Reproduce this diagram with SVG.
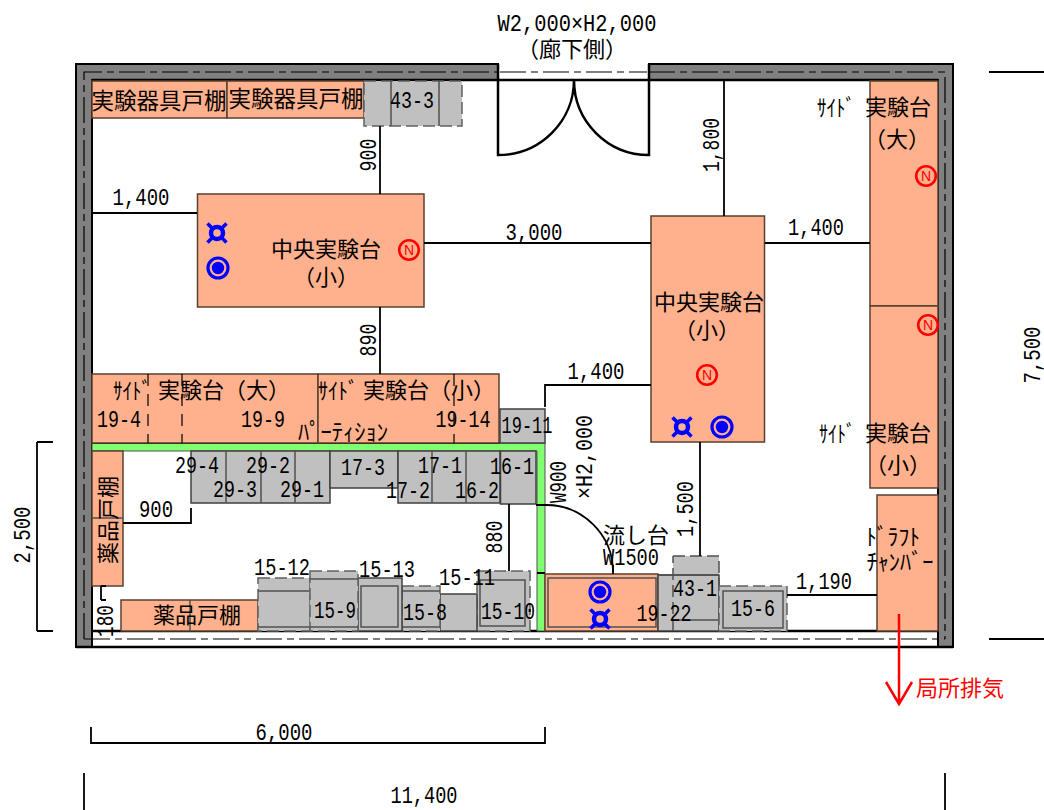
<svg xmlns="http://www.w3.org/2000/svg" width="1044" height="810" viewBox="0 0 1044 810">
<style>
text{fill:#000;text-anchor:middle}
.j{font-family:"Noto Sans CJK JP","Noto Sans",sans-serif;font-size:22px}
.js{font-family:"Noto Sans CJK JP","Noto Sans",sans-serif;font-size:22.500px}
.k{font-family:"Noto Sans CJK JP","Noto Sans",sans-serif;font-size:23px}
.n{font-family:"Liberation Mono",monospace;font-size:24px}
.r{font-family:"Noto Sans CJK JP",sans-serif;font-size:22px;fill:#f00;text-anchor:start}
.o{fill:#ffb08c;stroke:#5a4030;stroke-width:1.5}
.g{fill:#c0c0c0;stroke:#404040;stroke-width:1.5}
.d{fill:#c0c0c0;stroke:#606060;stroke-width:1.5;stroke-dasharray:12 5}
.e{fill:none;stroke:#505050;stroke-width:1.5;stroke-dasharray:12 5}
.i{fill:none;stroke:#505050;stroke-width:1.5}
.w{fill:#808080;stroke:#000;stroke-width:2}
.c{fill:none;stroke:#000;stroke-width:1.8}
.t{fill:none;stroke:#000;stroke-width:2.5}
.ct{fill:none;stroke:#000;stroke-width:1.2;stroke-dasharray:26 5 7 5}
.dg{fill:none;stroke:#000;stroke-width:1.2;stroke-dasharray:12 8}
.gr{fill:#80ff70;stroke:#505050;stroke-width:1}
.nt{font-family:"Liberation Sans",sans-serif;font-size:14px;fill:#f00}
</style>
<defs>
<g id="water"><circle r="10" fill="none" stroke="#00f" stroke-width="3.2"/><circle r="6.2" fill="#00f"/></g>
<g id="gas"><circle r="6" fill="none" stroke="#00f" stroke-width="4.500"/><path d="M-9.500-9.500L-4-4M9.500-9.500L4-4M-9.500 9.500L-4 4M9.500 9.500L4 4" stroke="#00f" stroke-width="3.5"/></g>
<circle id="nc" r="9.8" fill="none" stroke="#f00" stroke-width="2.6"/>
</defs>
<g id="room">
<path class="w" d="M76 64H498V80H92V647H76Z"/>
<path class="w" d="M649 64H953V647H938V80H649Z"/>
<path d="M92 631H938M76 647H953" class="t"/>
<path d="M92 80H938" class="t"/>
<path class="ct" d="M84 639V72H498M500 72H647M649 72H945V639M84 639H945"/>
</g>
<g id="door">
<path class="t" d="M498 64V155A76 75 0 0 0 574 80A75 75 0 0 0 649 155V64"/>
</g>
<g id="shelf-top-1"><rect class="o" x="92" y="81" width="135" height="37"/><text class="js" x="159" y="109">実験器具戸棚</text></g>
<g id="shelf-top-2"><rect class="o" x="227" y="81" width="137" height="37"/><text class="js" x="296" y="107">実験器具戸棚</text></g>
<g id="c43-3"><rect class="d" x="364" y="81" width="98" height="45"/><path class="i" d="M391 81V126M439 81V126"/><text class="n" x="412" y="108" textLength="44" lengthAdjust="spacingAndGlyphs">43-3</text></g>
<g id="table-center-1"><rect class="o" x="197.500" y="194" width="226.500" height="113"/><text class="j" x="326" y="257">中央実験台</text><text class="j" x="326" y="285">（小）</text><use href="#gas" x="217" y="233"/><use href="#water" x="218" y="268"/><use href="#nc" x="409" y="250"/><text class="nt" x="409" y="255">N</text></g>
<g id="table-center-2"><rect class="o" x="651" y="216" width="113.500" height="226"/><text class="j" x="709" y="310">中央実験台</text><text class="j" x="707" y="338">（小）</text><use href="#nc" x="707" y="375"/><text class="nt" x="707" y="380">N</text><use href="#gas" x="682" y="427"/><use href="#water" x="722" y="427"/></g>
<g id="side-right-large"><rect class="o" x="870" y="81" width="68" height="225"/><text class="k" x="836" y="116" textLength="38" lengthAdjust="spacingAndGlyphs">ｻｲﾄﾞ</text><text class="j" x="898" y="115">実験台</text><text class="j" x="897" y="147">（大）</text><use href="#nc" x="926" y="176"/><text class="nt" x="926" y="181">N</text></g>
<g id="side-right-small"><rect class="o" x="870" y="306" width="68" height="182"/><text class="k" x="837" y="442" textLength="36" lengthAdjust="spacingAndGlyphs">ｻｲﾄﾞ</text><text class="j" x="898" y="441">実験台</text><text class="j" x="898" y="473">（小）</text><use href="#nc" x="928" y="325"/><text class="nt" x="928" y="330">N</text></g>
<g id="draft"><rect class="o" x="877" y="495" width="61" height="136"/><text class="k" x="893" y="545" textLength="54" lengthAdjust="spacingAndGlyphs">ﾄﾞﾗﾌﾄ</text><text class="k" x="900" y="570" textLength="67" lengthAdjust="spacingAndGlyphs">ﾁｬﾝﾊﾞｰ</text></g>
<g id="partition"><path class="gr" d="M92 443H545V631H537V451H92Z"/><path class="c" d="M92 443H500M537 573H545" stroke-width="1"/></g>
<g id="side-left-large"><rect class="o" x="92" y="374" width="226" height="69"/><path class="dg" d="M148 374V443M182 374V443"/><text class="k" x="132" y="399" textLength="38" lengthAdjust="spacingAndGlyphs">ｻｲﾄﾞ</text><text class="j" x="224" y="398">実験台（大）</text><text class="n" x="119" y="427" textLength="44" lengthAdjust="spacingAndGlyphs">19-4</text><text class="n" x="263" y="427" textLength="44" lengthAdjust="spacingAndGlyphs">19-9</text></g>
<g id="side-left-small"><rect class="o" x="318" y="374" width="181" height="69"/><path class="dg" d="M454 374V443"/><text class="k" x="338" y="399" textLength="40" lengthAdjust="spacingAndGlyphs">ｻｲﾄﾞ</text><text class="j" x="429" y="398">実験台（小）</text><text class="n" x="463" y="427" textLength="55" lengthAdjust="spacingAndGlyphs">19-14</text><text class="k" x="343" y="440" textLength="90" lengthAdjust="spacingAndGlyphs">ﾊﾟｰﾃｨｼｮﾝ</text></g>
<g id="c19-11"><rect class="g" x="500" y="409" width="45" height="34"/><text class="n" x="527" y="433" textLength="51" lengthAdjust="spacingAndGlyphs">19-11</text></g>
<g id="c29"><path class="g" d="M191 451H330V503H191Z"/><path class="i" d="M226 451V503M261 451V503M295 451V503"/><text class="n" x="197" y="473" textLength="44" lengthAdjust="spacingAndGlyphs">29-4</text><text class="n" x="268" y="473" textLength="44" lengthAdjust="spacingAndGlyphs">29-2</text><text class="n" x="235" y="497" textLength="44" lengthAdjust="spacingAndGlyphs">29-3</text><text class="n" x="302" y="497" textLength="44" lengthAdjust="spacingAndGlyphs">29-1</text></g>
<g id="c17-3"><rect class="g" x="330" y="451" width="68" height="37"/><text class="n" x="363" y="475" textLength="44" lengthAdjust="spacingAndGlyphs">17-3</text></g>
<g id="c17-16"><rect class="g" x="398" y="451" width="102" height="52"/><path class="i" d="M432 451V503M466 451V503"/><text class="n" x="440" y="473" textLength="44" lengthAdjust="spacingAndGlyphs">17-1</text><text class="n" x="408" y="498" textLength="44" lengthAdjust="spacingAndGlyphs">17-2</text><text class="n" x="477" y="498" textLength="44" lengthAdjust="spacingAndGlyphs">16-2</text></g>
<g id="c16-1"><rect class="g" x="500.500" y="451" width="35.500" height="53"/><text class="n" x="512" y="474" textLength="44" lengthAdjust="spacingAndGlyphs">16-1</text></g>
<g id="drug-left"><rect class="o" x="92" y="451" width="31" height="135"/><path class="i" d="M92 518H123"/><text class="j" transform="translate(108 520) rotate(-90)" y="8">薬品戸棚</text></g>
<g id="drug-bottom"><rect class="o" x="121" y="600" width="137" height="31"/><path class="i" d="M190 600V631"/><text class="j" x="197" y="623">薬品戸棚</text></g>
<g id="c15-12"><rect class="d" x="258" y="578" width="52" height="53"/><path class="i" d="M258 591H310M258 627H310"/><text class="n" x="282" y="575" textLength="56" lengthAdjust="spacingAndGlyphs">15-12</text></g>
<g id="c15-10"><rect class="d" x="477" y="571" width="53" height="60"/><rect class="i" x="480" y="580" width="45" height="46"/><text class="n" x="508" y="619" textLength="54" lengthAdjust="spacingAndGlyphs">15-10</text></g>
<g id="c15-11"><rect class="g" x="440" y="594" width="37" height="37"/><text class="n" x="467" y="585" textLength="56" lengthAdjust="spacingAndGlyphs">15-11</text></g>
<g id="c15-8"><rect class="d" x="402" y="586" width="38" height="45"/><path class="i" d="M402 591H440M402 627H440"/><text class="n" x="425" y="620" textLength="44" lengthAdjust="spacingAndGlyphs">15-8</text></g>
<g id="c15-13"><rect class="g" x="358" y="578" width="44" height="53"/><rect class="i" x="361" y="586" width="37" height="41"/><text class="n" x="387" y="577" textLength="56" lengthAdjust="spacingAndGlyphs">15-13</text></g>
<g id="c15-9"><rect class="d" x="310" y="571" width="48" height="60"/><path class="i" d="M310 579H358M310 627H358"/><text class="n" x="335" y="618" textLength="42" lengthAdjust="spacingAndGlyphs">15-9</text></g>
<g id="sink"><rect class="o" x="545" y="574" width="113" height="57"/><rect class="i" x="548" y="578" width="108" height="49"/><use href="#water" x="600" y="592"/><use href="#gas" x="600" y="619"/><text class="j" x="636" y="543">流し台</text><text class="n" x="631" y="565" textLength="56" lengthAdjust="spacingAndGlyphs">W1500</text></g>
<g id="c43-1"><rect x="673" y="556" width="46" height="19" fill="#c0c0c0"/><rect class="g" x="658" y="575" width="61" height="56"/><path class="e" d="M673 556H719V631M673 631V556"/><path class="i" d="M658 575H719M673 620H719"/><text class="n" x="695" y="596" textLength="44" lengthAdjust="spacingAndGlyphs">43-1</text></g>
<g id="c19-22"><text class="n" x="664" y="621" textLength="55" lengthAdjust="spacingAndGlyphs">19-22</text></g>
<g id="c15-6"><rect class="d" x="719" y="586" width="68" height="45"/><rect class="i" x="723" y="591" width="60" height="37"/><text class="n" x="753" y="616" textLength="44" lengthAdjust="spacingAndGlyphs">15-6</text></g>
<g id="connectors">
<path class="c" d="M92 213H197M380 126V194M380 307V374M424 243H651M724 80V216M765 243H870M545 407V385H651M509 504V571M700 442V556M787 595H877M123 523H191V508M91 727V743H545V727M84 773V810M945 773V810M989 72H1044M989 639H1044M37 442V631M37 442H53M37 631H53M613 565V574M101 586V600M101 586H106M101 600H106"/>
<path class="c" stroke-width="1.2" d="M536 505H546A67 67 0 0 1 613 572"/>
<path d="M899 614V704M886 682L899 704L912 682" fill="none" stroke="#f00" stroke-width="2.500"/>
</g>
<g id="labels">
<text class="n" x="141" y="205" textLength="57" lengthAdjust="spacingAndGlyphs">1,400</text>
<text class="n" transform="translate(368 155) rotate(-90)" y="8" textLength="33" lengthAdjust="spacingAndGlyphs">900</text>
<text class="n" transform="translate(368 340) rotate(-90)" y="8" textLength="33" lengthAdjust="spacingAndGlyphs">890</text>
<text class="n" x="534" y="240" textLength="57" lengthAdjust="spacingAndGlyphs">3,000</text>
<text class="n" transform="translate(711 145) rotate(-90)" y="8" textLength="54" lengthAdjust="spacingAndGlyphs">1,800</text>
<text class="n" x="816" y="235" textLength="56" lengthAdjust="spacingAndGlyphs">1,400</text>
<text class="n" x="596" y="379" textLength="57" lengthAdjust="spacingAndGlyphs">1,400</text>
<text class="n" transform="translate(558 482) rotate(-90)" y="8" textLength="42" lengthAdjust="spacingAndGlyphs">W900</text>
<text class="n" transform="translate(584 457) rotate(-90)" y="8" textLength="84" lengthAdjust="spacingAndGlyphs">×H2,000</text>
<text class="n" transform="translate(494 537) rotate(-90)" y="8" textLength="33" lengthAdjust="spacingAndGlyphs">880</text>
<text class="n" transform="translate(685 509) rotate(-90)" y="8" textLength="56" lengthAdjust="spacingAndGlyphs">1,500</text>
<text class="n" x="824" y="589" textLength="56" lengthAdjust="spacingAndGlyphs">1,190</text>
<text class="n" x="156" y="517" textLength="34" lengthAdjust="spacingAndGlyphs">900</text>
<text class="n" transform="translate(105 621) rotate(-90)" y="8" textLength="32" lengthAdjust="spacingAndGlyphs">180</text>
<text class="n" x="284" y="740" textLength="57" lengthAdjust="spacingAndGlyphs">6,000</text>
<text class="n" x="424" y="803" textLength="67" lengthAdjust="spacingAndGlyphs">11,400</text>
<text class="n" transform="translate(1032 355) rotate(-90)" y="8" textLength="57" lengthAdjust="spacingAndGlyphs">7,500</text>
<text class="n" transform="translate(22 535) rotate(-90)" y="8" textLength="57" lengthAdjust="spacingAndGlyphs">2,500</text>
<text class="n" x="577" y="31" textLength="159" lengthAdjust="spacingAndGlyphs">W2,000×H2,000</text>
<text class="j" x="572" y="57">（廊下側）</text>
<text class="r" x="916" y="696">局所排気</text>
</g>
</svg>
